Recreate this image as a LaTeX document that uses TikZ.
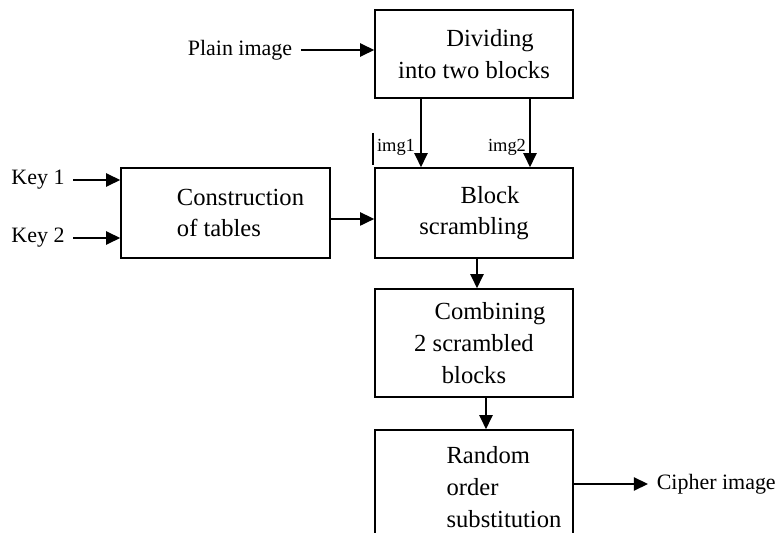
\documentclass[tikz,border=0pt]{standalone}
\usepackage{fontspec}
\setmainfont{Liberation Serif}
\usetikzlibrary{arrows.meta,positioning}

\begin{document}
\begin{tikzpicture}[x=0.02cm, y=-0.02cm,
  box/.style={draw, line width=0.9pt, minimum width=3.96cm, inner sep=0pt, font=\fontsize{14}{18}\selectfont},
  lbl/.style={inner sep=1pt, outer sep=4pt, font=\fontsize{12.5}{15}\selectfont},
  arr/.style={-{Triangle[length=8pt, width=7.5pt]}, line width=0.9pt}]
\useasboundingbox (0,0) rectangle (775,533);

% Processing blocks
\node[box, minimum height=1.76cm, align=center] (divide) at (474,54) {\hspace*{0.64cm}Dividing\\into two blocks};
\node[box, minimum height=1.8cm, align=center] (scramble) at (474,213) {\hspace*{0.64cm}Block\\scrambling};
\node[box, minimum width=4.18cm, minimum height=1.8cm, align=left] (tables) at (225.5,213)
  {\hspace*{0.6cm}Construction\\\hspace*{0.6cm}of tables};
\node[box, minimum height=2.16cm, align=center] (combine) at (474,343) {\hspace*{0.64cm}Combining\\2 scrambled\\blocks};
\node[box, minimum height=2.28cm, align=left] (subst) at (474,487)
  {\hspace*{1.2cm}Random\\\hspace*{1.2cm}order\\\hspace*{1.2cm}substitution};

% Inputs and output
\node[lbl] (plain) at (240,50) {Plain image};
\node[lbl] (key1) at (38,180) {Key 1};
\node[lbl] (key2) at (38,238) {Key 2};
\node[lbl, anchor=west] (cipher) at (648,484) {Cipher image};

% Split image labels
\node[lbl, outer sep=0pt, font=\fontsize{10.5}{12}\selectfont] (img1) at (396,147) {img1};
\node[lbl, outer sep=0pt, font=\fontsize{10.5}{12}\selectfont] (img2) at (507,147) {img2};
\draw[line width=1.6pt] (373,133) -- (373,165);

% Arrow columns
\coordinate (c1) at (421,0);
\coordinate (c2) at (530,0);
\coordinate (c3) at (477,0);
\coordinate (c4) at (486,0);

% Connectors
\draw[arr] (plain) -- (plain -| divide.west);
\draw[arr] (key1) -- (key1 -| tables.west);
\draw[arr] (key2) -- (key2 -| tables.west);
\draw[arr] (divide.south -| c1) -- (scramble.north -| c1);
\draw[arr] (divide.south -| c2) -- (scramble.north -| c2);
\draw[arr] ([yshift=-3.4pt]tables.east) -- ([yshift=-3.4pt]scramble.west);
\draw[arr] (scramble.south -| c3) -- (combine.north -| c3);
\draw[arr] (combine.south -| c4) -- (subst.north -| c4);
\draw[arr] (subst.east |- cipher) -- (cipher.west);
\end{tikzpicture}
\end{document}
